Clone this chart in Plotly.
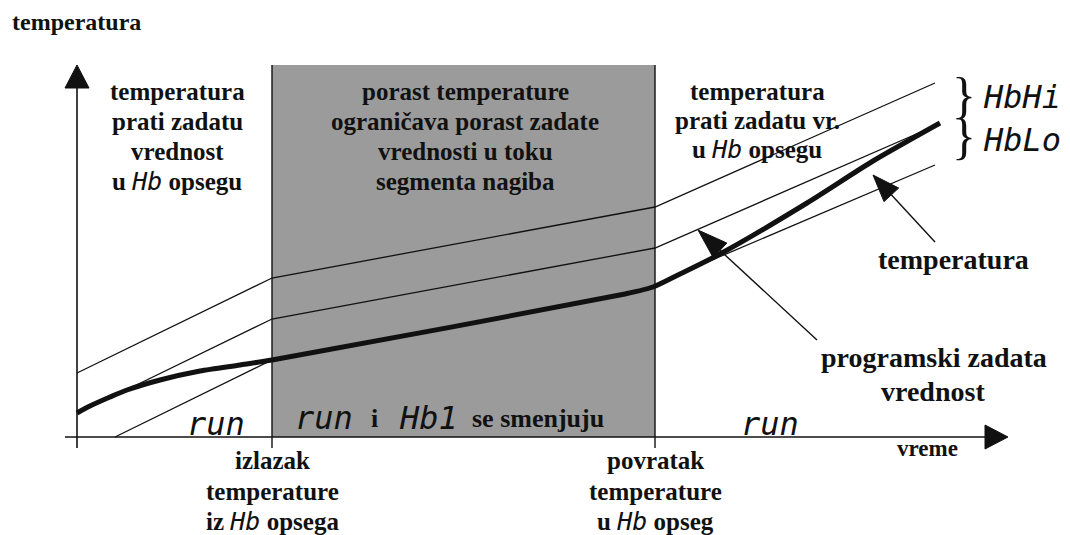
import numpy as np
import plotly.graph_objects as go

W, H = 1070, 535
# coordinate system: x = time ("vreme"), y = temperature; origin where the axes cross
# (the page body has an 8px margin, so the ranges are offset accordingly)
X_RANGE = [-69, 1001]
Y_RANGE = [-106, 429]

# upper band limit (HbHi)
t_hi = [0, 195, 578, 858]
v_hi = [64, 159, 230, 354]
# program set point
t_sp = [43, 195, 578, 860]
v_sp = [44, 118, 189, 312]
# lower band limit (HbLo), two visible pieces
t_lo_a = [38, 195]
v_lo_a = [0, 77]
t_lo_b = [635, 858]
v_lo_b = [177, 272]
# measured temperature
t_temp = [0, 13, 33, 50, 83, 123, 163, 195, 548, 576, 603, 643, 730, 796, 863]
v_temp = [24, 31, 40, 47, 57, 66, 72, 77, 143, 150, 163, 183, 234, 276, 314]
# ramp segment limited by the temperature (gray region)
seg_start, seg_end, seg_top = 195, 578, 372
# axes extents
axis_t = [-12, 931]
axis_v = [-11, 372]
# pointer arrows (tail -> tip)
arrow_temp = [(858, 195), (796, 262)]
arrow_sp = [(740, 97), (621, 207)]

SERIF = "Liberation Serif"
SEG = "DejaVu Sans Mono"
INK = "#111111"


def head(tip, tail, length, hw):
    tip = np.array(tip, float)
    tail = np.array(tail, float)
    d = tip - tail
    d = d / np.hypot(*d)
    n = np.array([-d[1], d[0]])
    base = tip - d * length
    pts = np.array([tip, base + n * hw, base - n * hw, tip])
    return pts[:, 0], pts[:, 1], base


fig = go.Figure()

# gray region
fig.add_shape(type="rect", x0=seg_start, x1=seg_end, y0=0, y1=seg_top,
              fillcolor="#9b9b9b", line=dict(width=0), layer="below")
for xv in (seg_start, seg_end):
    fig.add_trace(go.Scatter(x=[xv, xv], y=[axis_v[0], seg_top], mode="lines",
                             line=dict(color=INK, width=1.4), hoverinfo="skip"))


def line(xs, ys, w=1.3, shape="linear"):
    fig.add_trace(go.Scatter(x=xs, y=ys, mode="lines",
                             line=dict(color=INK, width=w, shape=shape, smoothing=0.7),
                             hoverinfo="skip"))


line(t_hi, v_hi)
line(t_sp, v_sp)
line(t_lo_a, v_lo_a)
line(t_lo_b, v_lo_b)
line(t_temp, v_temp, w=5, shape="spline")

# axes with arrow heads
hx, hy, base = head((0, axis_v[1]), (0, axis_v[0]), 23, 12)
line([0, 0], [axis_v[0], base[1]], w=1.6)
fig.add_trace(go.Scatter(x=hx, y=hy, mode="lines", fill="toself", fillcolor=INK,
                         line=dict(color=INK, width=1), hoverinfo="skip"))
hx, hy, base = head((axis_t[1], 0), (axis_t[0], 0), 23, 12)
line([axis_t[0], base[0]], [0, 0], w=1.6)
fig.add_trace(go.Scatter(x=hx, y=hy, mode="lines", fill="toself", fillcolor=INK,
                         line=dict(color=INK, width=1), hoverinfo="skip"))

# pointer arrows
for (tail, tip), L in ((arrow_temp, 27), (arrow_sp, 30)):
    hx, hy, base = head(tip, tail, L, 10)
    line([tail[0], base[0]], [tail[1], base[1]], w=1.4)
    fig.add_trace(go.Scatter(x=hx, y=hy, mode="lines", fill="toself", fillcolor=INK,
                             line=dict(color=INK, width=1), hoverinfo="skip"))


def txt(x, y, s, size=25, family=SERIF, bold=True, xanchor="center", style="normal"):
    fig.add_annotation(x=x, y=y, text=s, showarrow=False, xref="x", yref="y",
                       xanchor=xanchor, yanchor="middle",
                       font=dict(family=family, size=size, color=INK,
                                 weight="bold" if bold else "normal", style=style))


HB = ('<span style="font-family:DejaVu Sans Mono;font-weight:normal;'
      'font-style:italic;font-size:25px">Hb</span>')

txt(-67, 415, "temperatura", size=24, xanchor="left")

left_lines = ["temperatura", "prati zadatu", "vrednost", "u " + HB + " opsegu"]
gray_lines = ["porast temperature", "ograničava porast zadate",
              "vrednosti u toku", "segmenta nagiba"]
right_lines = ["temperatura", "prati zadatu vr.", "u " + HB + " opsegu"]
rows = [346, 316, 286, 256]
for s, y in zip(left_lines, rows):
    txt(100, y, s)
for s, y in zip(gray_lines, rows):
    txt(388, y, s)
for s, y in zip(right_lines, [346, 317, 288]):
    txt(680, y, s)

bottom_rows = [-23, -54, -84]
for s, y in zip(["izlazak", "temperature", "iz " + HB + " opsega"], bottom_rows):
    txt(seg_start, y, s)
for s, y in zip(["povratak", "temperature", "u " + HB + " opseg"], bottom_rows):
    txt(seg_end, y, s)

txt(876, 178, "temperatura", size=28)
txt(857, 80, "programski zadata", size=28)
txt(856, 46, "vrednost", size=28)
txt(850, -11, "vreme", size=23)

# seven-segment display texts
txt(139, 13, "run", size=32, family=SEG, bold=False, style="italic")
txt(247, 19, "run", size=32, family=SEG, bold=False, style="italic")
txt(297, 19, "i", size=26)
txt(351, 19, "Hb1", size=32, family=SEG, bold=False, style="italic")
txt(393, 19, "se smenjuju", size=26, xanchor="left")
txt(693, 13, "run", size=32, family=SEG, bold=False, style="italic")

txt(887, 342, "}", size=50, bold=False)
txt(887, 301, "}", size=50, bold=False)
txt(904, 340, "HbHi", size=32, family=SEG, bold=False, style="italic", xanchor="left")
txt(904, 297, "HbLo", size=32, family=SEG, bold=False, style="italic", xanchor="left")

fig.update_layout(
    width=W, height=H, margin=dict(l=0, r=0, t=0, b=0),
    paper_bgcolor="white", plot_bgcolor="white", showlegend=False,
    xaxis=dict(range=X_RANGE, visible=False, fixedrange=True),
    yaxis=dict(range=Y_RANGE, visible=False, fixedrange=True),
)

fig.write_html("out.html", config={"displayModeBar": False})
